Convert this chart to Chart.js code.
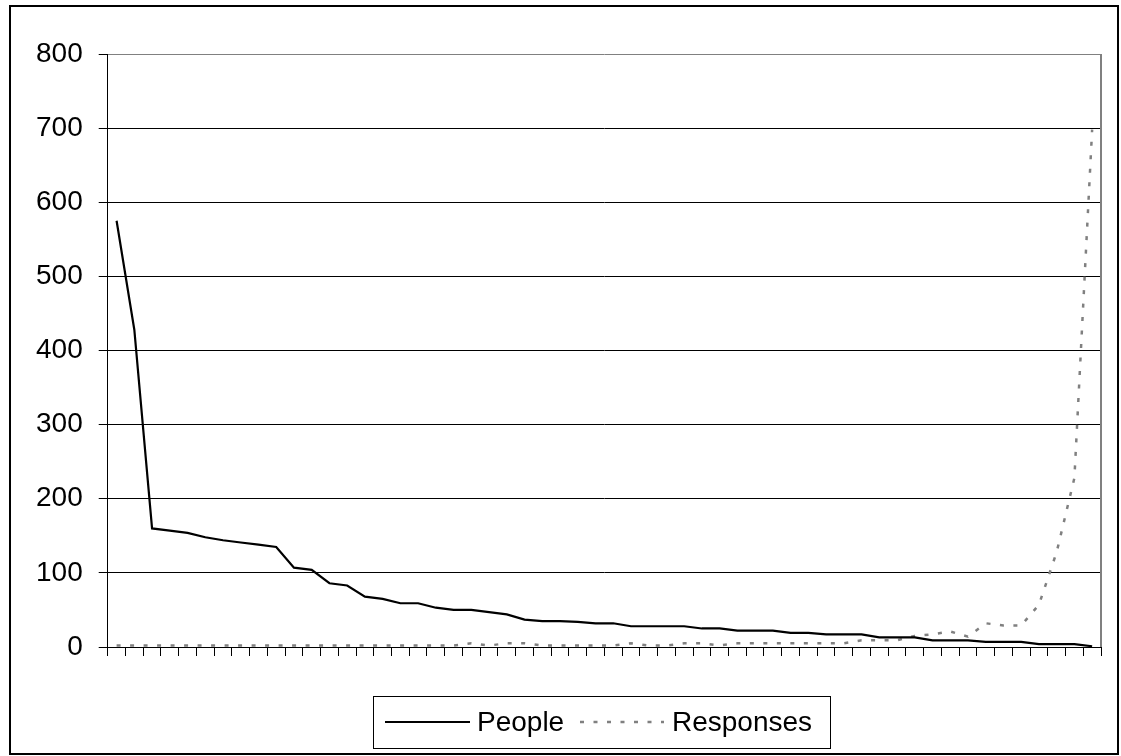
<!DOCTYPE html>
<html>
<head>
<meta charset="utf-8">
<script src="https://cdn.jsdelivr.net/npm/chart.js@4"></script>
<style>
  body { margin: 0; background: #fff; }
  #chart { display: block; }
</style>
</head>
<body>
<canvas id="chart" width="1121" height="756"></canvas>
<script>
const categories = ['1', '2', '3', '4', '5', '6', '7', '8', '9', '10',
  '11', '12', '13', '14', '15', '16', '17', '18', '19', '20',
  '21', '22', '23', '24', '25', '26', '27', '28', '29', '30',
  '31', '32', '33', '34', '35', '36', '37', '38', '39', '40',
  '41', '42', '43', '44', '45', '46', '47', '48', '49', '50',
  '51', '52', '53', '54', '55', '56'];

const people = [575, 428, 160, 157, 154, 148, 144, 141, 138, 135,
  107, 104, 86, 83, 68, 65, 59, 59, 53, 50,
  50, 47, 44, 37, 35, 35, 34, 32, 32, 28,
  28, 28, 28, 25, 25, 22, 22, 22, 19, 19,
  17, 17, 17, 13, 13, 13, 9, 9, 9, 7,
  7, 7, 4, 4, 4, 1];

const responses = [2, 2, 2, 2, 2, 2, 2, 2, 2, 2,
  2, 2, 2, 2, 2, 2, 2, 2, 2, 2,
  5, 2, 5, 5, 2, 2, 2, 2, 2, 5,
  2, 2, 5, 5, 2, 5, 5, 5, 5, 5,
  5, 5, 9, 9, 9, 15, 17, 21, 14, 32,
  29, 29, 57, 128, 228, 698];

const yTicks = [0, 100, 200, 300, 400, 500, 600, 700, 800];

const FONT = "'Liberation Sans', Arial, sans-serif";

// white background, outer frame, right plot edge and the boxed legend
const frame = {
  id: 'frame',
  beforeDraw(chart) {
    const ctx = chart.ctx;
    ctx.save();
    ctx.fillStyle = '#fff';
    ctx.fillRect(0, 0, chart.width, chart.height);
    ctx.restore();
  },
  afterDraw(chart) {
    const ctx = chart.ctx;
    const a = chart.chartArea;
    ctx.save();
    ctx.strokeStyle = '#808080';
    ctx.lineWidth = 2;
    ctx.beginPath();
    ctx.moveTo(a.right, a.top);
    ctx.lineTo(a.right, a.bottom);
    ctx.stroke();

    // legend
    const ly = 722;
    ctx.strokeStyle = '#000';
    ctx.lineWidth = 1;
    ctx.strokeRect(373.5, 696.5, 457, 52);
    const items = [
      { x: 385, w: 85, tx: 477 },
      { x: 580, w: 84, tx: 672 }
    ];
    ctx.font = '28px ' + FONT;
    ctx.textBaseline = 'middle';
    ctx.fillStyle = '#000';
    chart.data.datasets.forEach((ds, i) => {
      const it = items[i];
      ctx.save();
      ctx.strokeStyle = ds.borderColor;
      ctx.lineWidth = ds.borderWidth;
      ctx.setLineDash(ds.borderDash || []);
      ctx.beginPath();
      ctx.moveTo(it.x, ly);
      ctx.lineTo(it.x + it.w, ly);
      ctx.stroke();
      ctx.restore();
      ctx.fillText(ds.label, it.tx, ly + 1);
    });

    ctx.strokeStyle = '#000';
    ctx.lineWidth = 2;
    ctx.strokeRect(10, 6, 1108, 748);
    ctx.restore();
  }
};

new Chart(document.getElementById('chart'), {
  type: 'line',
  data: {
    labels: categories,
    datasets: [
      {
        label: 'People',
        data: people,
        borderColor: '#000',
        borderWidth: 2.2,
        pointRadius: 0,
        tension: 0,
        fill: false
      },
      {
        label: 'Responses',
        data: responses,
        borderColor: '#808080',
        borderWidth: 2.5,
        borderDash: [4, 9.5],
        pointRadius: 0,
        tension: 0,
        fill: false
      }
    ]
  },
  options: {
    responsive: false,
    animation: false,
    layout: { padding: { left: 20, right: 20, top: 54, bottom: 10 } },
    scales: {
      x: {
        offset: true,
        grid: {
          offset: true,
          drawOnChartArea: false,
          drawTicks: true,
          tickLength: 9,
          color: '#000',
          lineWidth: 1
        },
        border: { color: '#000', width: 1 },
        ticks: { display: false, autoSkip: false },
        afterFit(scale) { scale.height = 99; }
      },
      y: {
        min: 0,
        max: 800,
        afterBuildTicks(scale) { scale.ticks = yTicks.map(v => ({ value: v })); },
        grid: {
          color: c => (c.tick && c.tick.value === 800 ? '#808080' : '#000'),
          lineWidth: 1,
          tickLength: 9,
          tickColor: '#000'
        },
        border: { color: '#000', width: 1 },
        ticks: {
          padding: 16,
          color: '#000',
          font: { family: FONT, size: 28 }
        }
      }
    },
    plugins: {
      legend: { display: false },
      tooltip: { enabled: false }
    }
  },
  plugins: [frame]
});
</script>
</body>
</html>
